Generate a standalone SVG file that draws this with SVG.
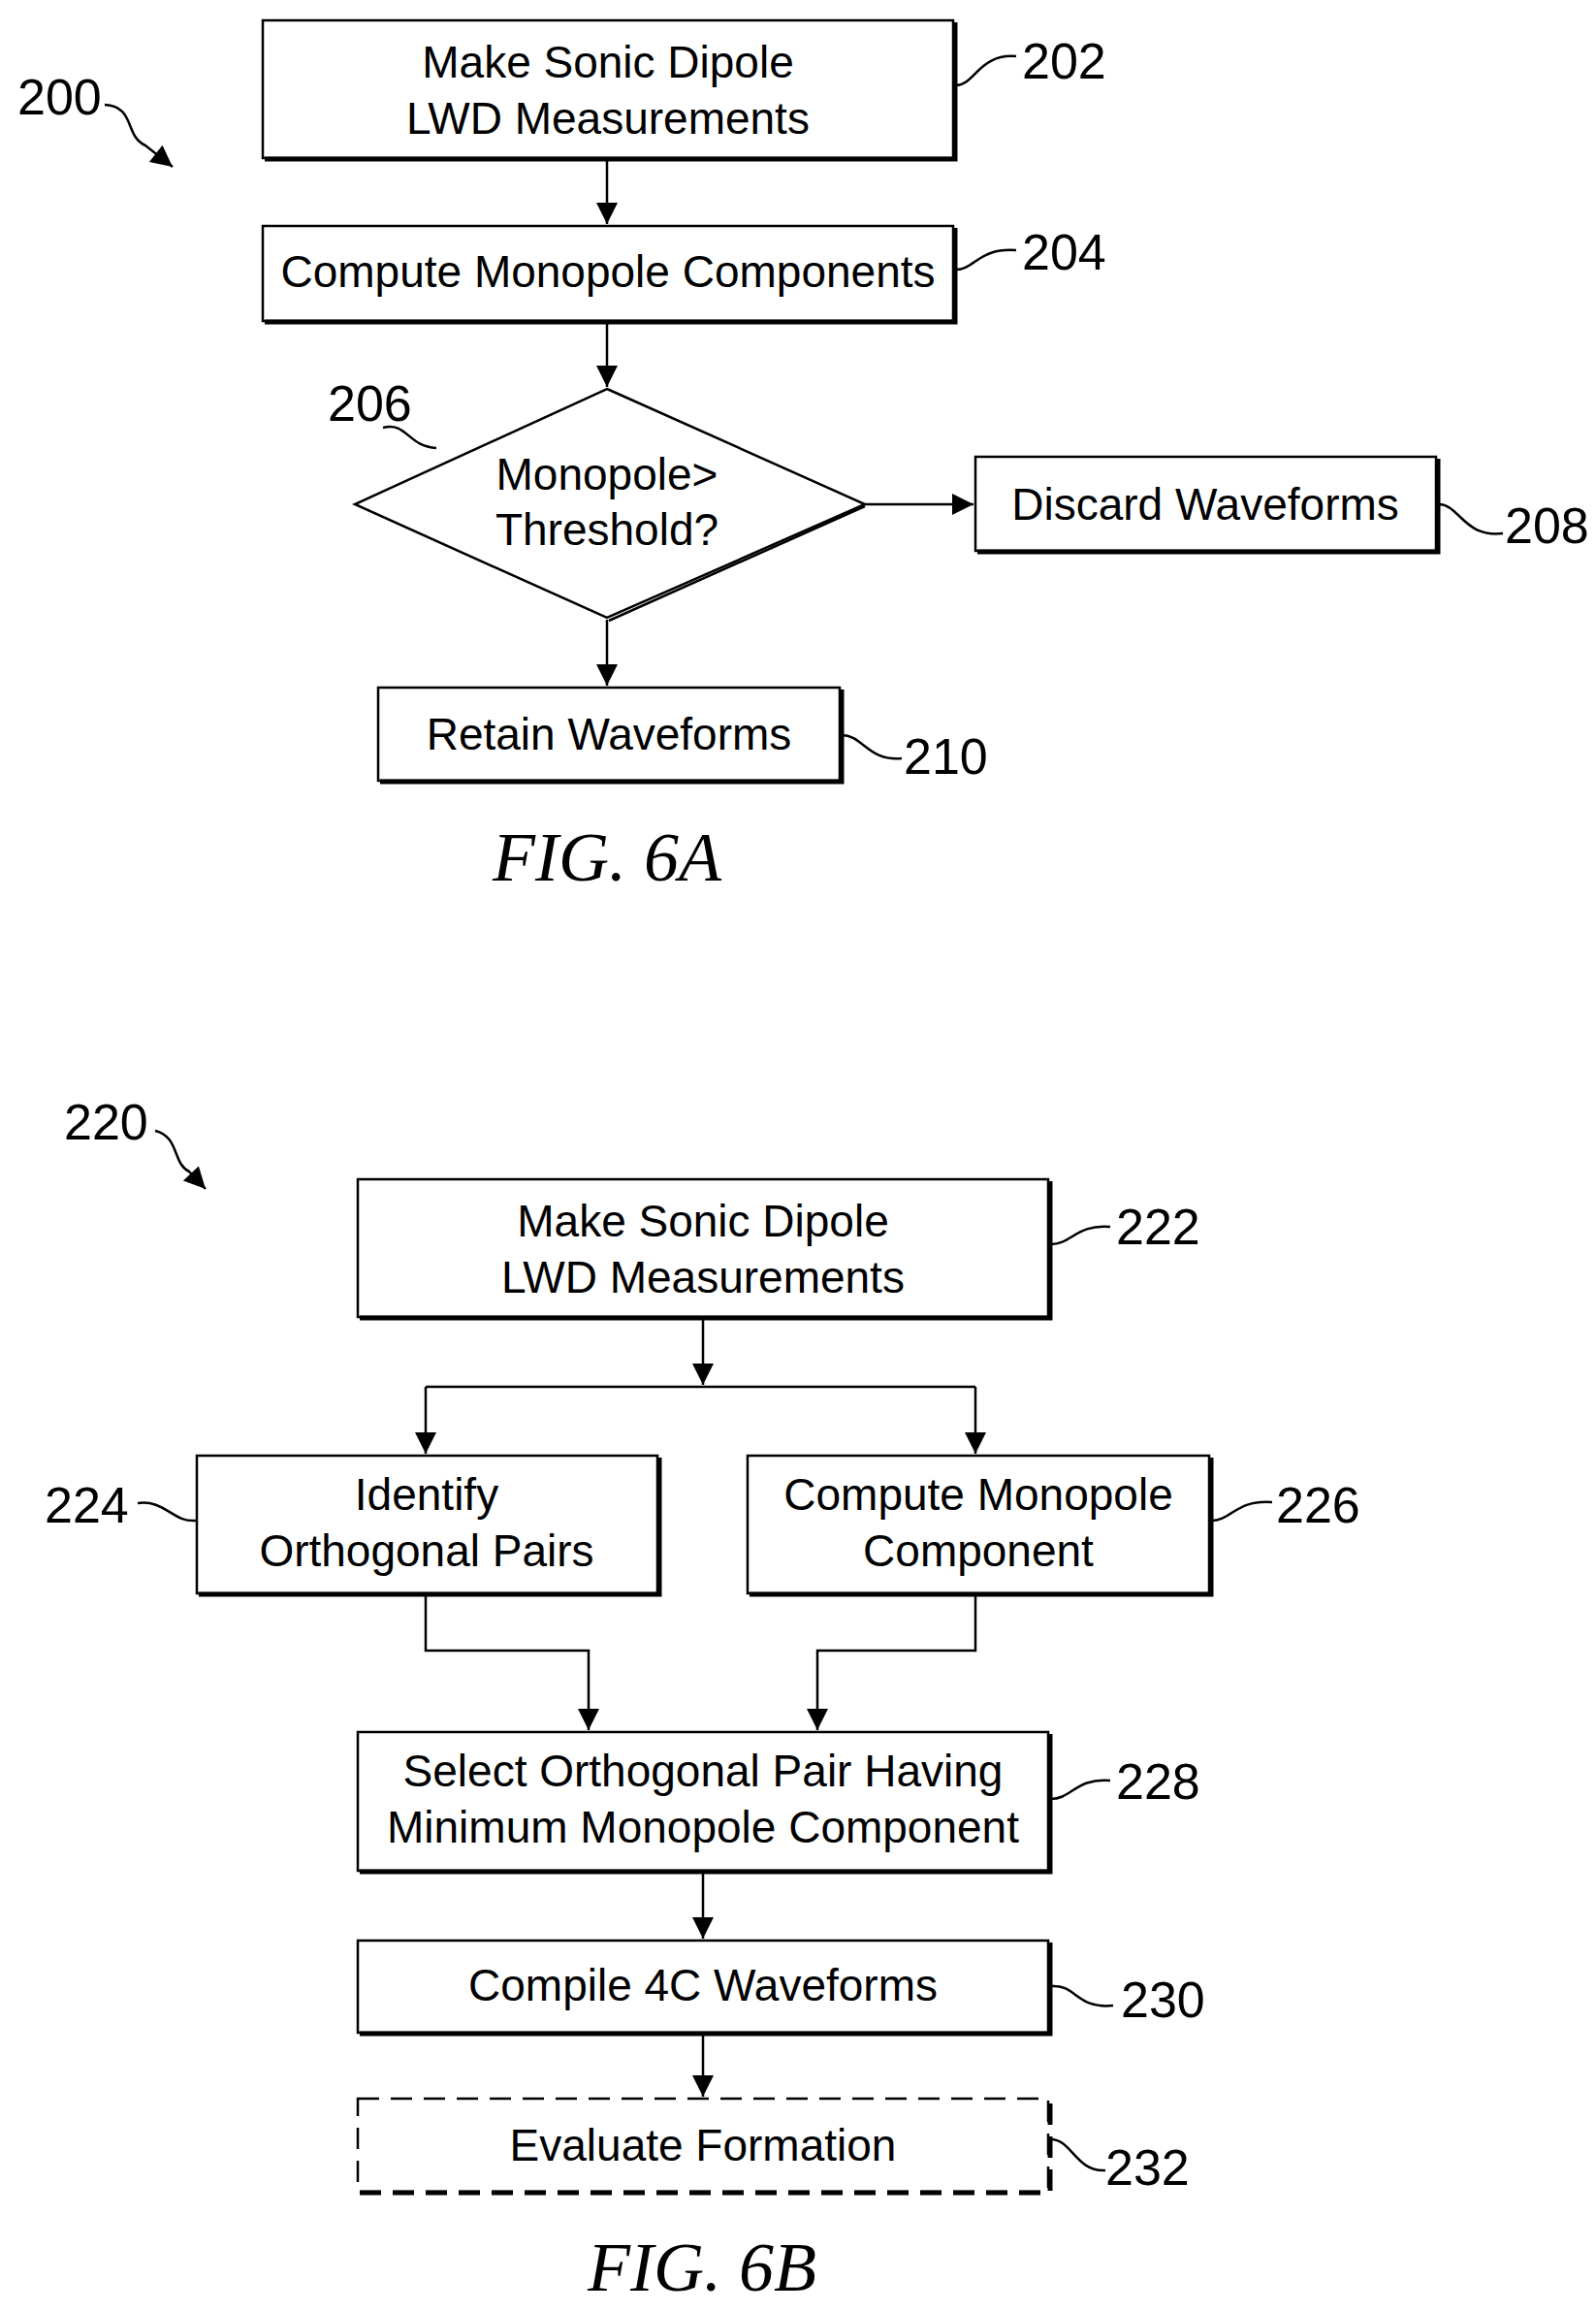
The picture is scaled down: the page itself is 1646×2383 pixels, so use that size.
<svg xmlns="http://www.w3.org/2000/svg" width="1646" height="2383" viewBox="0 0 1646 2383">
<defs>
<marker id="ah" viewBox="0 0 10 10" refX="10" refY="5" markerWidth="9" markerHeight="9" markerUnits="userSpaceOnUse" orient="auto"><path d="M0,0L10,5L0,10z" fill="#000"/></marker>
<marker id="ah2" viewBox="0 0 10 10" refX="10" refY="5" markerWidth="26" markerHeight="22" markerUnits="userSpaceOnUse" orient="auto"><path d="M0,0L10,5L0,10z" fill="#000"/></marker>
</defs>
<style>
.b{fill:#fff;stroke:#000;stroke-width:2.5}
.s{fill:none;stroke:#000;stroke-width:5}
.t{font-family:"Liberation Sans Narrow","Liberation Sans",sans-serif;font-size:46px;text-anchor:middle;fill:#000}
.l{font-family:"Liberation Sans Narrow","Liberation Sans",sans-serif;font-size:52px;fill:#000}
.f{font-family:"Liberation Serif",serif;font-style:italic;font-size:72px;text-anchor:middle}
.c{fill:none;stroke:#000;stroke-width:2.5}
.a{fill:none;stroke:#000;stroke-width:2.5;marker-end:url(#ah2)}
</style>
<rect width="1646" height="2383" fill="#fff"/>
<g id="n200"><text class="l" x="18" y="118">200</text><path class="c" d="M108,108 C140,110 128,140 150,150 L178,172" marker-end="url(#ah2)"/></g>
<g id="n202"><rect class="b" x="271" y="21" width="712" height="142"/><path class="s" d="M273,164H985V23"/><text class="t" x="627" y="80">Make Sonic Dipole</text><text class="t" x="627" y="138">LWD Measurements</text><path class="c" d="M986,88 C1005,88 1010,55 1048,58"/><text class="l" x="1054" y="81">202</text></g>
<g id="n204"><rect class="b" x="271" y="233" width="712" height="98"/><path class="s" d="M273,332H985V235"/><text class="t" x="627" y="296">Compute Monopole Components</text><path class="c" d="M986,278 C1005,278 1010,255 1048,258"/><text class="l" x="1054" y="278">204</text></g>
<g id="n206"><path class="b" d="M626,401L892,520L626,637L366,520z"/><path class="c" d="M892,522L628,640" stroke-width="4"/><text class="t" x="626" y="505">Monopole&gt;</text><text class="t" x="626" y="562">Threshold?</text><path class="c" d="M395,441 C420,435 420,460 450,462"/><text class="l" x="338" y="434">206</text></g>
<g id="n208"><rect class="b" x="1006" y="471" width="475" height="97"/><path class="s" d="M1008,569H1483V473"/><text class="t" x="1243" y="536">Discard Waveforms</text><path class="c" d="M1484,520 C1505,520 1510,555 1550,550"/><text class="l" x="1552" y="560">208</text></g>
<g id="n210"><rect class="b" x="390" y="709" width="476" height="96"/><path class="s" d="M392,806H868V711"/><text class="t" x="628" y="773">Retain Waveforms</text><path class="c" d="M868,758 C890,758 895,785 930,782"/><text class="l" x="932" y="798">210</text></g>
<text class="f" x="626" y="908">FIG. 6A</text>
<g id="n220"><text class="l" x="66" y="1175">220</text><path class="c" d="M160,1166 C185,1172 178,1200 195,1208 L212,1226" marker-end="url(#ah2)"/></g>
<g id="n222"><rect class="b" x="369" y="1216" width="712" height="142"/><path class="s" d="M371,1359H1083V1218"/><text class="t" x="725" y="1275">Make Sonic Dipole</text><text class="t" x="725" y="1333">LWD Measurements</text><path class="c" d="M1084,1283 C1105,1283 1110,1262 1145,1265"/><text class="l" x="1151" y="1283">222</text></g>
<g id="n224"><rect class="b" x="203" y="1501" width="475" height="142"/><path class="s" d="M205,1644H680V1503"/><text class="t" x="440" y="1557">Identify</text><text class="t" x="440" y="1615">Orthogonal Pairs</text><path class="c" d="M142,1550 C170,1546 178,1570 202,1568"/><text class="l" x="46" y="1570">224</text></g>
<g id="n226"><rect class="b" x="771" y="1501" width="476" height="142"/><path class="s" d="M773,1644H1249V1503"/><text class="t" x="1009" y="1557">Compute Monopole</text><text class="t" x="1009" y="1615">Component</text><path class="c" d="M1249,1568 C1270,1568 1275,1546 1312,1549"/><text class="l" x="1316" y="1570">226</text></g>
<g id="n228"><rect class="b" x="369" y="1786" width="712" height="143"/><path class="s" d="M371,1930H1083V1788"/><text class="t" x="725" y="1842">Select Orthogonal Pair Having</text><text class="t" x="725" y="1900">Minimum Monopole Component</text><path class="c" d="M1084,1855 C1105,1855 1110,1833 1145,1836"/><text class="l" x="1151" y="1855">228</text></g>
<g id="n230"><rect class="b" x="369" y="2001" width="712" height="95"/><path class="s" d="M371,2097H1083V2003"/><text class="t" x="725" y="2063">Compile 4C Waveforms</text><path class="c" d="M1084,2048 C1110,2046 1110,2072 1148,2068"/><text class="l" x="1156" y="2080">230</text></g>
<g id="n232"><rect class="b" x="369" y="2164" width="712" height="96" stroke-dasharray="22,12"/><path class="s" d="M371,2261H1083V2166" stroke-dasharray="22,12"/><text class="t" x="725" y="2228">Evaluate Formation</text><path class="c" d="M1084,2206 C1105,2206 1110,2240 1140,2238"/><text class="l" x="1140" y="2253">232</text></g>
<text class="f" x="724" y="2362">FIG. 6B</text>
<g id="connectors">
<path class="a" d="M626,165V231"/>
<path class="a" d="M626,333V399"/>
<path class="a" d="M892,520H1004"/>
<path class="a" d="M626,639V707"/>
<path class="a" d="M725,1360V1428"/>
<path class="c" d="M439,1430H1006"/>
<path class="a" d="M439,1430V1499"/>
<path class="a" d="M1006,1430V1499"/>
<path class="a" d="M439,1646V1702H607V1784"/>
<path class="a" d="M1006,1646V1702H843V1784"/>
<path class="a" d="M725,1932V1999"/>
<path class="a" d="M725,2099V2162"/>
</g>
</svg>
